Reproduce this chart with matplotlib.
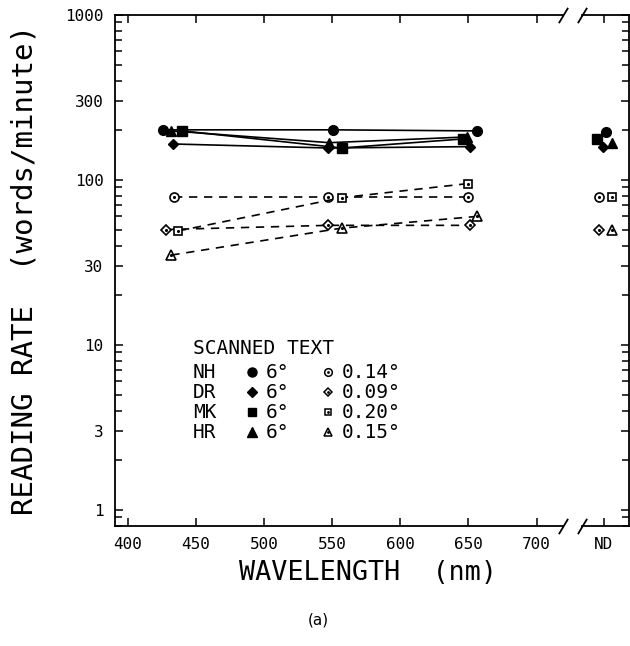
import matplotlib
matplotlib.use("Agg")
import matplotlib.pyplot as plt
import numpy as np

plt.rcParams['font.family'] = 'DejaVu Sans Mono'

# data: 6 deg (filled, solid) and small print (open, dashed)
subjects = ['NH', 'DR', 'MK', 'HR']
markers = ['o', 'D', 's', '^']

wl_big = [[426, 551, 656], [433, 547, 651], [440, 557, 646], [432, 548, 649]]
rate_big = [[201, 201, 198], [165, 156, 159], [198, 156, 177], [198, 168, 182]]

wl_small = [[434, 547, 650], [428, 547, 651], [437, 557, 650], [432, 557, 656]]
rate_small = [[79, 79, 79], [50, 53, 53], [49, 78, 95], [35, 51, 60]]

# no-filter (ND) condition, small sideways offsets as drawn
nd_off_big = [1.5, -0.7, -5.1, 5.9]
nd_big = [195, 159, 177, 168]
nd_off_small = [-3.7, -3.7, 5.9, 5.9]
nd_small = [79, 50, 79, 50]

small_sizes = ['0.14°', '0.09°', '0.20°', '0.15°']

fig = plt.figure(figsize=(6.3, 6.46), dpi=100)
ax = fig.add_axes([0.182, 0.186, 0.712, 0.791])
ax2 = fig.add_axes([0.924, 0.186, 0.075, 0.791])

msz = {'o': 7, 'D': 5.5, 's': 6.5, '^': 7}
for i in range(4):
    m = markers[i]
    ax.plot(wl_big[i], rate_big[i], color='black', lw=1.2, marker=m,
            ms=msz[m], mfc='black', mec='black')
    ax.plot(wl_small[i], rate_small[i], color='black', lw=1.2, ls=(0, (5, 4)),
            marker=m, ms=msz[m] - 0.5, mfc='white', mec='black', mew=1.2)
    ax.plot(wl_small[i], rate_small[i], ls='none', marker='.', ms=2.5, color='black')
    ax2.plot(nd_off_big[i], nd_big[i], marker=m, ms=msz[m], color='black')
    ax2.plot(nd_off_small[i], nd_small[i], marker=m, ms=msz[m] - 0.5,
             mfc='white', mec='black', mew=1.2)
    ax2.plot(nd_off_small[i], nd_small[i], marker='.', ms=2.5, color='black')

for a in (ax, ax2):
    a.set_yscale('log')
    a.set_ylim(0.8, 1000)
    for s in a.spines.values():
        s.set_linewidth(1.3)

ax.set_xlim(390.4, 719.6)
ax.set_xticks([400, 450, 500, 550, 600, 650, 700])
ax.set_yticks([1, 3, 10, 30, 100, 300, 1000])
ax.set_yticklabels(['1', '3', '10', '30', '100', '300', '1000'])
ax.yaxis.set_minor_locator(matplotlib.ticker.LogLocator(subs=np.arange(2, 10)))
ax.yaxis.set_minor_formatter(matplotlib.ticker.NullFormatter())
ax.tick_params(which='both', direction='in', top=True, right=False, labelsize=11.5)
ax.tick_params(which='major', length=6, width=1.1, pad=8)
ax.tick_params(which='minor', length=5, width=1.1)
ax.spines['right'].set_visible(False)

ax2.set_xlim(-16.2, 19)
ax2.set_xticks([0])
ax2.set_xticklabels(['ND'])
ax2.yaxis.set_minor_locator(matplotlib.ticker.LogLocator(subs=np.arange(2, 10)))
ax2.yaxis.tick_right()
ax2.set_yticks([1, 3, 10, 30, 100, 300, 1000])
ax2.yaxis.set_major_formatter(matplotlib.ticker.NullFormatter())
ax2.yaxis.set_minor_formatter(matplotlib.ticker.NullFormatter())
ax2.tick_params(which='both', direction='in', top=True, left=False, right=True, labelsize=11.5)
ax2.tick_params(which='major', length=6, width=1.1, pad=8)
ax2.tick_params(which='minor', length=5, width=1.1)
ax2.spines['left'].set_visible(False)

# break marks
brk = [(-0.6, -1), (0.6, 1)]
kw = dict(marker=brk, markersize=11, ls='none', color='black', mec='black', mew=1.3, clip_on=False)
ax.plot([1, 1], [0, 1], transform=ax.transAxes, **kw)
ax2.plot([0, 0], [0, 1], transform=ax2.transAxes, **kw)

ax.set_ylabel('READING RATE  (words/minute)', fontsize=21, labelpad=19)
ax.set_xlabel('WAVELENGTH  (nm)', fontsize=19.3)
ax.xaxis.set_label_coords(0.564, -0.067)

# key
fs = 14
fig.text(193 / 630, 1 - 348 / 646, 'SCANNED TEXT', fontsize=fs, va='center')
row_y = [372, 392, 412, 432]
for i in range(4):
    yf = 1 - row_y[i] / 646
    m = markers[i]
    fig.text(193 / 630, yf, subjects[i], fontsize=fs, va='center')
    fig.lines.append(plt.Line2D([252 / 630], [yf], marker=m, ms=msz[m] - 0.5,
                                color='black', transform=fig.transFigure))
    fig.text(266 / 630, yf, '6°', fontsize=fs, va='center')
    fig.lines.append(plt.Line2D([328 / 630], [yf], marker=m, ms=msz[m] - 1.5, mfc='white',
                                mec='black', mew=1.1, transform=fig.transFigure))
    fig.lines.append(plt.Line2D([328 / 630], [yf], marker='.', ms=2, color='black',
                                transform=fig.transFigure))
    fig.text(342 / 630, yf, small_sizes[i], fontsize=fs, va='center')

fig.text(318 / 630, 1 - 620 / 646, '(a)', fontsize=11, ha='center', va='center',
         family='DejaVu Sans')

fig.savefig('out.png', dpi=100)
